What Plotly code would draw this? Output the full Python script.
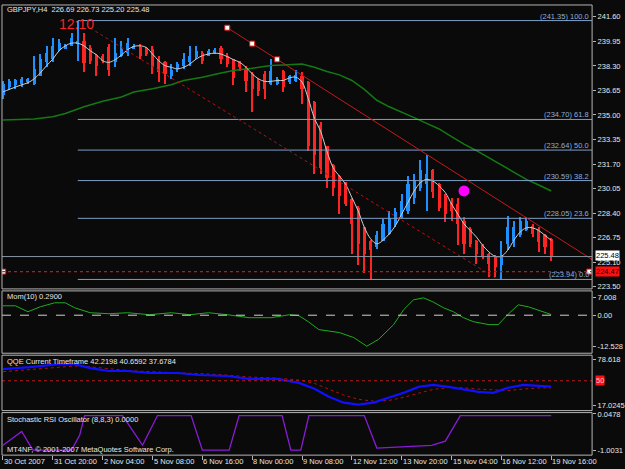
import plotly.graph_objects as go

# ---------------- data ----------------
tick_bars = [0, 8, 16, 24, 32, 40, 48, 56, 64, 72, 80, 88]
tick_labels = ["30 Oct 2007", "31 Oct 20:00", "2 Nov 04:00", "5 Nov 08:00", "6 Nov 16:00",
               "8 Nov 00:00", "9 Nov 08:00", "12 Nov 12:00", "13 Nov 20:00", "15 Nov 04:00",
               "16 Nov 12:00", "19 Nov 16:00"]

opens = [236.32, 236.90, 237.00, 237.10, 237.20, 237.10, 237.65, 238.54, 238.76, 239.43,
         239.45, 239.65, 239.76, 240.00, 239.54, 238.98, 238.98, 239.60, 238.54, 238.98,
         239.20, 239.43, 239.60, 239.50, 239.43, 238.76, 238.54, 237.60, 238.10, 238.32,
         238.54, 238.87, 239.20, 239.00, 239.20, 239.54, 238.98, 238.76, 238.54, 238.10,
         237.77, 237.30, 237.77, 237.10, 237.10, 237.99, 237.20, 237.30, 237.65, 237.21,
         235.88, 234.33, 232.89, 231.67, 230.89, 230.44, 229.33, 228.78, 227.45, 226.56,
         226.10, 226.56, 227.00, 227.67, 228.20, 228.56, 229.40, 230.11, 230.33, 231.33,
         230.33, 229.56, 229.10, 229.00, 227.90, 227.34, 226.56, 226.23, 225.68, 225.45,
         224.90, 226.35, 226.56, 226.90, 227.30, 227.56, 227.34, 226.90, 226.69]
highs = [237.32, 237.45, 237.45, 237.55, 237.50, 238.98, 239.10, 239.65, 240.20, 240.10,
         239.76, 240.54, 241.35, 240.54, 239.70, 239.10, 239.10, 239.76, 240.20, 239.98,
         240.20, 239.76, 239.80, 239.60, 239.65, 238.98, 238.60, 238.40, 238.54, 239.20,
         239.65, 239.65, 239.30, 239.43, 239.54, 239.65, 239.20, 238.76, 238.65, 238.32,
         237.88, 237.50, 237.99, 238.76, 237.55, 238.00, 237.70, 238.00, 237.88, 237.32,
         235.95, 234.55, 232.95, 231.70, 230.95, 230.50, 229.40, 228.90, 227.50, 226.60,
         227.23, 228.00, 228.56, 228.78, 229.67, 230.89, 231.00, 232.00, 232.33, 231.40,
         230.44, 229.67, 229.45, 229.45, 228.12, 227.45, 226.60, 226.35, 225.70, 225.57,
         226.56, 228.23, 227.90, 228.12, 228.12, 227.67, 227.45, 227.00, 226.73]
lows = [236.10, 236.65, 236.75, 236.90, 237.10, 236.99, 237.65, 238.20, 238.54, 239.32,
        239.43, 239.65, 238.65, 237.88, 238.40, 237.65, 238.50, 237.65, 238.20, 238.87,
        238.98, 239.43, 238.80, 239.00, 237.77, 237.21, 237.10, 237.40, 237.90, 238.10,
        238.32, 238.76, 238.43, 238.98, 239.10, 238.43, 238.20, 236.99, 237.99, 236.54,
        235.21, 236.30, 236.10, 236.99, 236.99, 236.54, 237.10, 237.20, 235.77, 232.60,
        231.00, 231.00, 230.11, 229.56, 228.34, 228.90, 225.68, 224.90, 224.35, 224.00,
        226.00, 226.50, 226.90, 227.50, 228.10, 228.34, 229.00, 229.89, 228.56, 229.45,
        228.56, 227.78, 227.90, 226.23, 225.68, 226.12, 225.00, 225.34, 224.13, 224.13,
        223.94, 225.90, 226.10, 226.80, 227.20, 226.78, 225.80, 225.68, 225.20]
closes = [237.10, 237.30, 237.35, 237.40, 237.40, 238.10, 238.76, 239.20, 239.65, 239.87,
          239.70, 240.20, 239.98, 238.50, 238.60, 238.30, 238.60, 238.00, 239.20, 239.43,
          239.87, 239.65, 239.00, 239.10, 238.20, 237.88, 237.77, 238.00, 238.40, 238.76,
          238.98, 239.32, 238.65, 239.30, 239.40, 238.76, 238.43, 237.50, 238.21, 237.32,
          236.77, 236.60, 236.77, 237.99, 237.40, 236.90, 237.60, 237.70, 236.77, 232.90,
          232.33, 231.45, 230.78, 230.11, 229.56, 229.00, 227.67, 226.35, 225.68, 225.90,
          226.90, 227.67, 228.10, 228.45, 229.20, 230.33, 230.60, 231.33, 231.00, 229.80,
          228.78, 228.34, 228.56, 227.67, 226.35, 226.35, 225.68, 225.45, 225.00, 224.80,
          225.57, 227.45, 227.45, 227.90, 227.90, 227.00, 226.45, 226.12, 225.48]

smooth_ma = [236.55, 236.72, 236.88, 237.03, 237.17, 237.43, 237.83, 238.32, 238.76, 239.32,
             239.65, 239.83, 239.83, 239.65, 239.32, 239.05, 238.65, 238.54, 238.72, 239.03,
             239.39, 239.61, 239.65, 239.54, 239.10, 238.65, 238.32, 238.21, 238.10, 238.21,
             238.43, 238.76, 238.99, 239.10, 239.16, 239.10, 238.92, 238.72, 238.54, 238.21,
             237.77, 237.43, 237.26, 237.26, 237.32, 237.32, 237.50, 237.54, 237.21, 236.10,
             234.77, 233.88, 232.55, 231.45, 230.89, 230.34, 229.45, 228.56, 227.45, 226.68,
             226.34, 226.57, 227.01, 227.56, 228.34, 229.12, 229.89, 230.45, 230.67, 230.56,
             230.23, 229.78, 229.01, 228.34, 227.68, 227.23, 226.79, 226.23, 225.79, 225.50,
             225.50, 225.90, 226.57, 227.12, 227.41, 227.41, 227.23, 226.90, 226.57]

slow_ma_bars = [0, 5, 8, 10, 13, 16, 19, 21, 24, 27, 29, 32, 35, 37, 40, 43, 45, 47, 48, 50,
                52, 54, 56, 58, 60, 62, 64, 66, 68, 70, 72, 74, 76, 78, 80, 82, 84, 86, 88]
slow_ma = [234.66, 234.73, 234.88, 235.10, 235.55, 235.93, 236.21, 236.55, 236.77, 237.03,
           237.32, 237.54, 237.83, 237.99, 238.14, 238.32, 238.37, 238.43, 238.43, 238.21,
           237.92, 237.70, 237.32, 236.72, 235.99, 235.55, 235.21, 234.82, 234.44, 234.06,
           233.55, 233.04, 232.60, 232.11, 231.62, 231.13, 230.67, 230.29, 229.89]

fib_levels = [241.35, 234.70, 232.64, 230.59, 228.05, 223.94]
fib_names = ["100.0", "61.8", "50.0", "38.2", "23.6", "0.0"]
fib_start_bar = 12

trend_bars = [36, 40, 44]
trend_prices = [240.87, 239.80, 238.74]
channel_bars = [14, 79]
channel_prices = [240.85, 224.05]
signal_bar, signal_price = 74, 229.89
level_line = 224.47
bid_price = 225.48

main_ticks = [241.60, 239.95, 238.30, 236.65, 235.00, 233.35, 231.70, 230.05, 228.40, 226.75, 225.10, 223.45]
main_tick_text = ["241.60", "239.95", "238.30", "236.65", "235.00", "233.35", "231.70", "230.05",
                  "228.40", "226.75", "225.10", "223.50"]

mom_bars = [0, 2, 4, 6, 8.3, 10, 11.5, 14, 17, 20, 23.5, 27, 30, 33, 36, 39.5, 43, 46, 47.5,
            49, 50.7, 54, 56.3, 58.4, 60.3, 62.7, 64.3, 65.9, 67.5, 69, 70.7, 72.3, 73.9, 75.5,
            78, 79.5, 81, 82.7, 84.3, 86.7, 88]
mom_vals = [3.8, 3.8, 1.4, 3.4, 5.0, 5.0, 3.0, 1.0, 0.6, 1.0, 0.2, 1.0, 0.2, 1.0, 0.2, -1.0,
            -1.0, 0.2, -0.2, -2.6, -5.8, -7.0, -9.0, -12.5, -9.7, -3.8, 2.2, 6.2, 7.0, 5.4,
            3.0, 1.4, -1.0, -2.6, -3.8, -3.8, 0.2, 4.2, 3.4, 1.4, 0.29]

qqe_bars = [0, 4.3, 9, 11.5, 14, 17, 20, 23.5, 28, 31.5, 36, 39.5, 44, 47.5, 50, 52.3, 54.7,
            57, 59.5, 62, 64.3, 66.7, 69, 71.5, 74, 76.3, 78.7, 81, 83.5, 86, 88]
qqe_fast = [65.5, 68.1, 72.1, 72.1, 66.8, 62.9, 62.9, 60.3, 60.3, 57.6, 56.3, 52.4, 52.4,
            47.2, 39.3, 28.8, 21.0, 18.3, 21.0, 27.5, 34.1, 41.9, 44.5, 41.9, 38.0, 35.4,
            34.1, 40.6, 44.5, 43.2, 42.22]
qqe_slow = [62.0, 64.5, 67.5, 69.5, 68.5, 65.5, 63.5, 62.0, 61.0, 59.5, 57.5, 55.0, 53.5,
            51.0, 46.5, 39.0, 31.0, 25.5, 23.0, 24.0, 28.0, 33.5, 38.5, 41.0, 40.5, 39.0,
            37.5, 37.0, 39.0, 40.5, 40.66]

stoch_bars = [0, 3, 4.8, 11, 12.3, 13.1, 19.2, 22.4, 24.8, 30.2, 32, 36.3, 37.9, 44.8, 46.2,
              47.8, 49.1, 58, 60, 68.8, 71, 73.4, 88]
stoch_vals = [-0.86, -0.46, -1.0, -1.0, -0.57, 0.0, 0.0, -0.86, 0.0, 0.0, -1.0, -1.0, 0.0,
              0.0, -1.0, -1.0, 0.0, 0.0, -0.94, -0.86, -0.74, 0.0, 0.0]
stoch_ticks = [0.0478, -1.0031]

title_text = "GBPJPY,H4  226.69 226.73 225.20 225.48"
mom_title = "Mom(10) 0.2900"
qqe_title = "QQE Current Timeframe 42.2198 40.6592 37.6784"
stoch_title = "Stochastic RSI Oscillator (8,8,3) 0.0000"
copyright_text = "MT4NF, © 2001-2007 MetaQuotes Software Corp."
timer_text = "12:10"

# ---------------- geometry ----------------
W, H = 625, 469
BG = "#0a0a0a"
FG = "#e6e6e6"
FONT = "Liberation Sans"
X_LEFT_PX, X_RIGHT_PX = 2, 594
BAR0_PX, BAR_STEP = 3.0, 6.25
x_lo = (X_LEFT_PX - BAR0_PX) / BAR_STEP
x_hi = (X_RIGHT_PX - BAR0_PX) / BAR_STEP


def yp(px):
    return 1 - px / H


panels = {
    "main": (2, 289), "mom": (291, 354), "qqe": (356, 412), "stoch": (414, 457)}

# ranges derived from right axis label positions
main_range = [241.60 - (289 - 14) / 15.03, 241.60 + (14 - 2) / 15.03]
mom_range = [7.008 - (354 - 298) / 2.508, 7.008 + (298 - 291) / 2.508]
qqe_range = [78.618 - (412 - 360) / 0.763, 78.618 + (360 - 356) / 0.763]
stoch_range = [0.0 - (457 - 417) / 35.0, 0.0 + (417 - 414) / 35.0]

fig = go.Figure()

n = len(opens)
idx = list(range(n))
up = [c >= o for o, c in zip(opens, closes)]
BLUE, RED = "#1e90ff", "#ff2424"
cols = [BLUE if u else RED for u in up]

# wicks
fig.add_trace(go.Bar(x=idx, y=[h - l for h, l in zip(highs, lows)], base=lows, width=0.17,
                     marker=dict(color=cols, line=dict(width=0)), xaxis="x", yaxis="y"))
# bodies
fig.add_trace(go.Bar(x=idx, y=[max(abs(c - o), 0.04) for o, c in zip(opens, closes)],
                     base=[min(o, c) for o, c in zip(opens, closes)], width=0.5,
                     marker=dict(color=cols, line=dict(width=0)), xaxis="x", yaxis="y"))

# moving averages
fig.add_trace(go.Scatter(x=slow_ma_bars, y=slow_ma, mode="lines", line=dict(color="#137a13", width=1.5),
                         xaxis="x", yaxis="y"))
fig.add_trace(go.Scatter(x=idx, y=smooth_ma, mode="lines", line=dict(color="#cfcfcf", width=1, shape="spline"),
                         xaxis="x", yaxis="y"))

# fibonacci levels
FIB_COL = "#7d9ec4"
for lv, nm in zip(fib_levels, fib_names):
    fig.add_trace(go.Scatter(x=[fib_start_bar, x_hi], y=[lv, lv], mode="lines",
                             line=dict(color=FIB_COL, width=1), xaxis="x", yaxis="y"))

# trend line with markers, extended to the right edge
slope = (trend_prices[-1] - trend_prices[0]) / (trend_bars[-1] - trend_bars[0])
fig.add_trace(go.Scatter(x=[trend_bars[0], x_hi], y=[trend_prices[0], trend_prices[0] + slope * (x_hi - trend_bars[0])],
                         mode="lines", line=dict(color="#c41a1a", width=1), xaxis="x", yaxis="y"))
fig.add_trace(go.Scatter(x=trend_bars, y=trend_prices, mode="markers",
                         marker=dict(symbol="square", size=5, color="white", line=dict(color="#e01010", width=1)),
                         xaxis="x", yaxis="y"))
# dotted channel line
fig.add_trace(go.Scatter(x=channel_bars, y=channel_prices, mode="lines",
                         line=dict(color="#b01414", width=1, dash="dot"), xaxis="x", yaxis="y"))
# signal dot
fig.add_trace(go.Scatter(x=[signal_bar], y=[signal_price], mode="markers",
                         marker=dict(size=11, color="#ff00ff"), xaxis="x", yaxis="y"))
# level line markers
fig.add_trace(go.Scatter(x=[x_lo + 0.2, x_hi - 0.45], y=[level_line, level_line], mode="markers",
                         marker=dict(symbol="square", size=5, color="white", line=dict(color="#e01010", width=1)),
                         xaxis="x", yaxis="y"))

# momentum
fig.add_trace(go.Scatter(x=mom_bars, y=mom_vals, mode="lines", line=dict(color="#1fae1f", width=1),
                         xaxis="x2", yaxis="y2"))
# QQE
fig.add_trace(go.Scatter(x=qqe_bars, y=qqe_slow, mode="lines", line=dict(color="#b01010", width=1, dash="dot"),
                         xaxis="x3", yaxis="y3"))
fig.add_trace(go.Scatter(x=qqe_bars, y=qqe_fast, mode="lines", line=dict(color="#1010ff", width=2.2),
                         xaxis="x3", yaxis="y3"))
# Stoch RSI
fig.add_trace(go.Scatter(x=stoch_bars, y=stoch_vals, mode="lines", line=dict(color="#8a1cd8", width=1.3),
                         xaxis="x4", yaxis="y4"))

shapes = []
annotations = []
AX = dict(color=FG, family=FONT, size=7.5)

# horizontal full-width lines
shapes.append(dict(type="line", xref="x domain", yref="y", x0=0, x1=1, y0=bid_price, y1=bid_price,
                   line=dict(color="#8a96a3", width=1)))
shapes.append(dict(type="line", xref="x domain", yref="y", x0=0, x1=1, y0=level_line, y1=level_line,
                   line=dict(color="#c01818", width=1.2, dash="dot")))
shapes.append(dict(type="line", xref="x2 domain", yref="y2", x0=0, x1=1, y0=0, y1=0,
                   line=dict(color="#d0d0d0", width=1, dash="dash")))
shapes.append(dict(type="line", xref="x3 domain", yref="y3", x0=0, x1=1, y0=50, y1=50,
                   line=dict(color="#c01818", width=1, dash="dot")))

# panel borders
for key, (t, b) in panels.items():
    shapes.append(dict(type="rect", xref="paper", yref="paper", x0=X_LEFT_PX / W, x1=X_RIGHT_PX / W,
                       y0=yp(b), y1=yp(t), line=dict(color="#b4b4b4", width=1)))

# fib labels
for lv, nm in zip(fib_levels, fib_names):
    annotations.append(dict(x=(X_RIGHT_PX - 1) / W, xref="paper", y=lv, yref="y", xanchor="right",
                            yanchor="bottom", text=f"({lv:.2f}) {nm}", showarrow=False,
                            font=dict(color="#8db0dc", family=FONT, size=7.5), yshift=-2))

# price labels on axis
annotations.append(dict(x=597 / W, xref="paper", y=bid_price, yref="y", xanchor="left", yanchor="middle",
                        text="225.48", showarrow=False, bgcolor="#ffffff", font=dict(color="#000000", family=FONT, size=7.5),
                        borderpad=0, yshift=1))
annotations.append(dict(x=597 / W, xref="paper", y=level_line, yref="y", xanchor="left", yanchor="middle",
                        text="224.47", showarrow=False, bgcolor="#ff1010", font=dict(color="#200000", family=FONT, size=7.5),
                        borderpad=0))
annotations.append(dict(x=597 / W, xref="paper", y=50, yref="y3", xanchor="left", yanchor="middle",
                        text="50", showarrow=False, bgcolor="#ff1010", font=dict(color="#ffc8c8", family=FONT, size=7.5),
                        borderpad=0))

# panel titles
for txt, px in [(title_text, 7), (mom_title, 297), (qqe_title, 362), (stoch_title, 421), (copyright_text, 451)]:
    annotations.append(dict(x=5 / W, xref="paper", y=yp(px), yref="paper", xanchor="left", yanchor="middle",
                            text=txt, showarrow=False, font=AX))
annotations.append(dict(x=77 / W, xref="paper", y=yp(21), yref="paper", xanchor="center", yanchor="middle",
                        text=timer_text, showarrow=False, font=dict(color="#ff2020", family=FONT, size=14)))

# time labels
for b, lab in zip(tick_bars, tick_labels):
    annotations.append(dict(x=b, xref="x4", y=yp(463), yref="paper", xanchor="left", yanchor="middle",
                            text=lab, showarrow=False, font=AX, xshift=-1))

xdom = [X_LEFT_PX / W, X_RIGHT_PX / W]
xbase = dict(range=[x_lo, x_hi], domain=xdom, showgrid=False, zeroline=False, showticklabels=False,
             showline=False, fixedrange=True)
ybase = dict(showgrid=False, zeroline=False, side="right", ticks="outside", ticklen=3, tickcolor="#b4b4b4",
             tickfont=AX, showline=False)

layout = dict(
    width=W, height=H, margin=dict(l=0, r=0, t=0, b=0), paper_bgcolor=BG, plot_bgcolor=BG,
    showlegend=False, barmode="overlay", bargap=0,
    xaxis=dict(**xbase, anchor="y"),
    xaxis2=dict(**xbase, anchor="y2", matches="x"),
    xaxis3=dict(**xbase, anchor="y3", matches="x"),
    xaxis4=dict(**xbase, anchor="y4", matches="x", ticks="outside", ticklen=4, tickcolor="#b4b4b4",
                tickvals=tick_bars),
    yaxis=dict(**ybase, domain=[yp(panels["main"][1]), yp(panels["main"][0])], range=main_range,
               tickvals=main_ticks, ticktext=main_tick_text, anchor="x"),
    yaxis2=dict(**ybase, domain=[yp(panels["mom"][1]), yp(panels["mom"][0])], range=mom_range,
                tickvals=[7.008, 0, -12.528], ticktext=["7.008", "0.00", "-12.528"], anchor="x2"),
    yaxis3=dict(**ybase, domain=[yp(panels["qqe"][1]), yp(panels["qqe"][0])], range=qqe_range,
                tickvals=[78.618, 17.0245], ticktext=["78.618", "17.0245"], anchor="x3"),
    yaxis4=dict(**ybase, domain=[yp(panels["stoch"][1]), yp(panels["stoch"][0])], range=stoch_range,
                tickvals=stoch_ticks, ticktext=["0.0478", "-1.0031"], anchor="x4"),
    shapes=shapes, annotations=annotations,
)
fig.update_layout(**layout)
fig.write_html("out.html")
